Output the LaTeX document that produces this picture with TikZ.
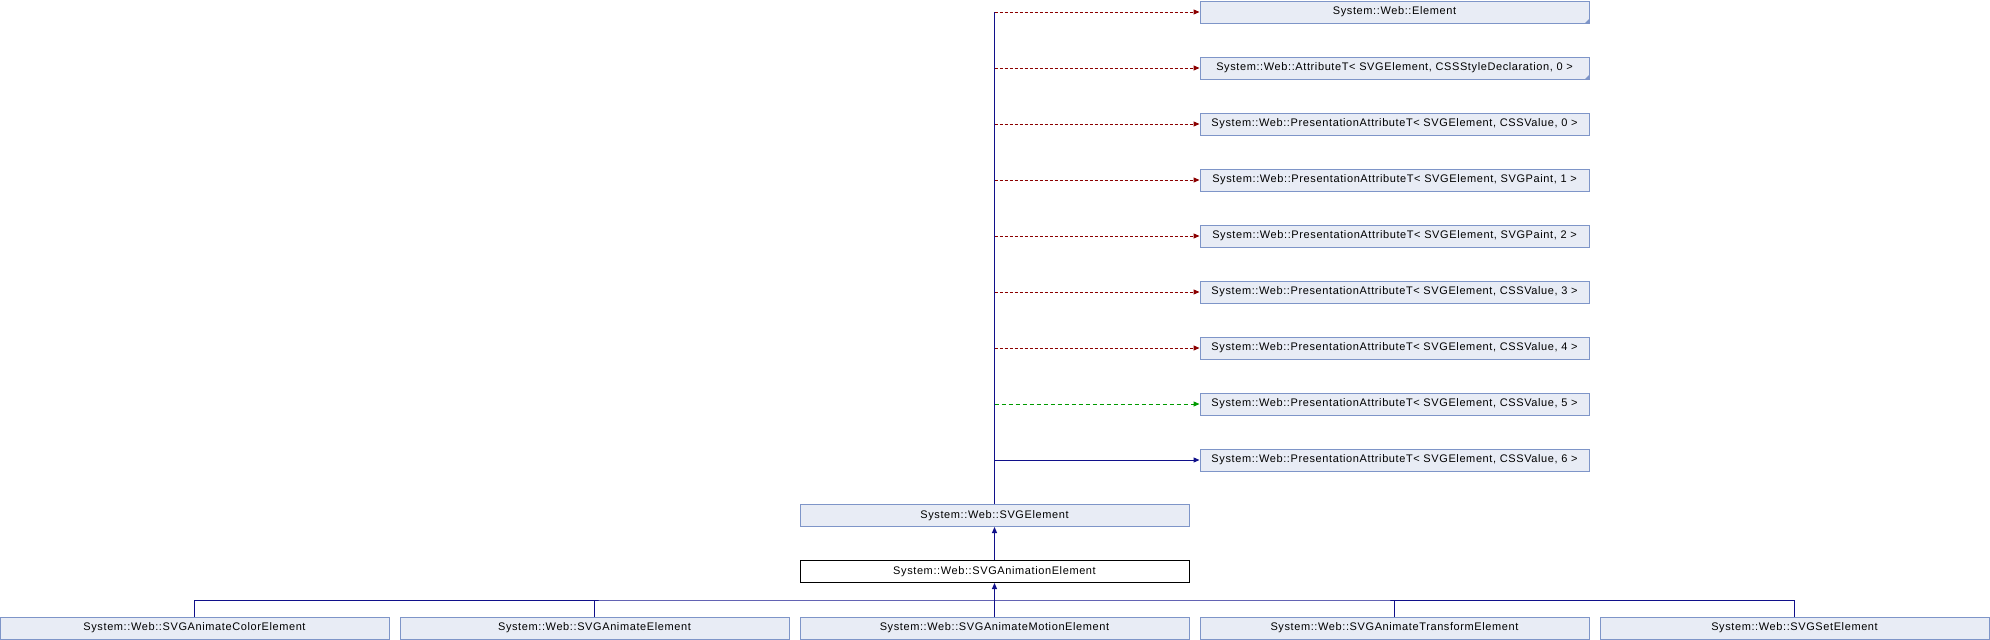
\documentclass[tikz,border=0pt]{standalone}
\usepackage{fontspec}
\setmainfont{Liberation Sans}[LetterSpace=5.5]
\usetikzlibrary{arrows.meta}
\definecolor{boxfill}{HTML}{E8ECF5}
\definecolor{boxdraw}{HTML}{7E95C8}
\definecolor{inhblue}{HTML}{10108A}
\definecolor{tmplred}{HTML}{8B0000}
\definecolor{tmplgreen}{HTML}{009A00}
\tikzset{
  cls/.style={draw=boxdraw, fill=boxfill, line width=1pt, rectangle, minimum width=389pt, minimum height=22pt, inner sep=0pt, font=\fontsize{11}{13}\selectfont},
  clsmain/.style={cls, draw=black, fill=white},
  tip/.style={-{Triangle[length=6pt,width=5pt]}},
  inh/.style={draw=inhblue, line width=1pt},
  reddot/.style={draw=tmplred, line width=1pt, dash pattern=on 3pt off 2pt, tip, color=tmplred},
  greendash/.style={draw=tmplgreen, line width=1pt, dash pattern=on 4pt off 3pt, tip, color=tmplgreen},
  bluearr/.style={inh, tip, color=inhblue},
  corner/.style={fill=boxdraw, draw=none}
}
\begin{document}
\begin{tikzpicture}[x=1pt,y=-1pt]
\useasboundingbox (0,0) rectangle (1990,640);
% right column
\node[cls] (e1) at (1394.5,12) {System::Web::Element};
\node[cls] (e2) at (1394.5,68) {System::Web::AttributeT< SVGElement, CSSStyleDeclaration, 0 >};
\node[cls] (e3) at (1394.5,124) {System::Web::PresentationAttributeT< SVGElement, CSSValue, 0 >};
\node[cls] (e4) at (1394.5,180) {System::Web::PresentationAttributeT< SVGElement, SVGPaint, 1 >};
\node[cls] (e5) at (1394.5,236) {System::Web::PresentationAttributeT< SVGElement, SVGPaint, 2 >};
\node[cls] (e6) at (1394.5,292) {System::Web::PresentationAttributeT< SVGElement, CSSValue, 3 >};
\node[cls] (e7) at (1394.5,348) {System::Web::PresentationAttributeT< SVGElement, CSSValue, 4 >};
\node[cls] (e8) at (1394.5,404) {System::Web::PresentationAttributeT< SVGElement, CSSValue, 5 >};
\node[cls] (e9) at (1394.5,460) {System::Web::PresentationAttributeT< SVGElement, CSSValue, 6 >};
% corner marks
\fill[corner] (e1.south east) -- ++(0,-5) -- ++(-5,5) -- cycle;
\fill[corner] (e2.south east) -- ++(0,-5) -- ++(-5,5) -- cycle;
% middle
\node[cls] (svge) at (994.5,515.5) {System::Web::SVGElement};
\node[clsmain] (anim) at (994.5,571.5) {System::Web::SVGAnimationElement};
% bottom row
\node[cls] (c1) at (194.5,628) {System::Web::SVGAnimateColorElement};
\node[cls] (c2) at (594.5,628) {System::Web::SVGAnimateElement};
\node[cls] (c3) at (994.5,628) {System::Web::SVGAnimateMotionElement};
\node[cls] (c4) at (1394.5,628) {System::Web::SVGAnimateTransformElement};
\node[cls] (c5) at (1794.5,628) {System::Web::SVGSetElement};
% trunk
\draw[inh] (svge.north) -- (svge.north |- e1.west);
\foreach \n in {e1,e2,e3,e4,e5,e6,e7}
  \draw[reddot] (svge.north |- \n.west) -- (\n.west);
\draw[greendash] (svge.north |- e8.west) -- (e8.west);
\draw[bluearr] (svge.north |- e9.west) -- (e9.west);
% inheritance
\draw[bluearr] (anim.north) -- (svge.south);
\coordinate (bus) at (994.5,600);
\draw[inh] (c1.north) |- (bus) -| (c5.north);
\draw[inh] (c2.north) -- (c2.north |- bus);
\draw[inh] (c4.north) -- (c4.north |- bus);
\draw[bluearr] (c3.north) -- (anim.south);
\end{tikzpicture}
\end{document}
